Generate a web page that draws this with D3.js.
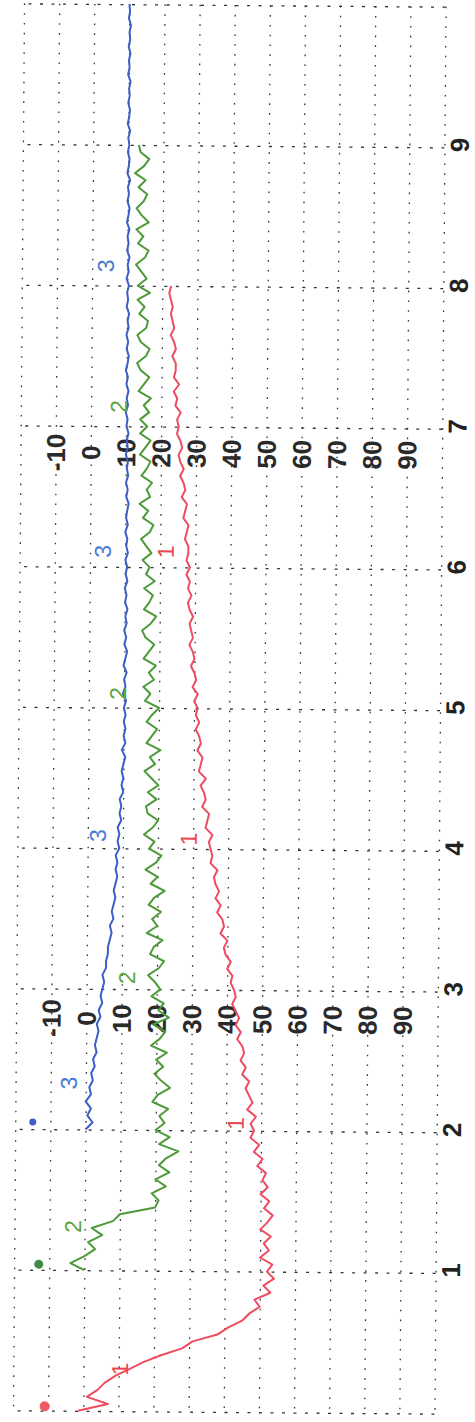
<!DOCTYPE html>
<html><head><meta charset="utf-8">
<script src="https://cdn.jsdelivr.net/npm/d3@7"></script>
<style>body{margin:0;background:#fff}svg{display:block}</style>
</head><body><svg id="c" width="475" height="1422"></svg>
<script>
// ---------- data ----------
const timeGrid = [0,1,2,3,4,5,6,7,8,9,10];
const timeTickLabels = [1,2,3,4,5,6,7,8,9];
const valueGrid = [-20,-10,0,10,20,30,40,50,60,70,80,90,100];
const valueTickLabels = [-10,0,10,20,30,40,50,60,70,80,90];
const valueLabelRows = [2.79, 6.81];   // time positions of the two label columns
const timeStep = 0.05;

const redStart = 0;
const redValues = [
 -1.5, 7, 1, 4, 6, 9, 13, 17, 22, 28, 31, 38, 41, 45, 47, 50, 48.5, 53, 51, 54,
 52, 53.5, 50, 52.5, 51, 53, 50, 52, 53.5, 51, 52.5, 50, 52, 50.5, 51.5, 49, 50.5, 48, 49.5, 47,
 48, 47, 48.5, 46, 47.5, 46.5, 45.5, 46.5, 44.5, 45.5, 44, 45, 44.5, 43, 44, 42.5, 43.5, 42.5, 41.5, 42.5,
 42, 41, 41.5, 40, 41, 39.5, 39, 40, 38, 39, 38.5, 37, 38, 36.5, 37.5, 36.5, 36, 37, 35, 35.5,
 35, 34.5, 35.5, 33.5, 34, 34.5, 32.5, 33.5, 33, 32, 33.5, 31.5, 32, 32.5, 31, 32, 31.5, 30.5, 31.5, 30.5,
 31, 30, 31, 29.5, 30.5, 30, 29, 30, 29.5, 28.5, 29.5, 29, 28.5, 29.5, 28.5, 28, 29, 28, 28.5, 27.5,
 28.5, 27.5, 28, 28, 27, 27.5, 28, 26.5, 27, 27.5, 26, 27, 26.5, 25.5, 26.5, 25.5, 25, 26, 25.5, 24.5,
 25, 24.5, 25.5, 24, 24.5, 23.5, 25, 23.5, 24, 24, 23, 24, 23.5, 22.5, 23.5, 23, 22.5, 23, 22.5, 22,
 22.5
];

const greenStart = 1;
const greenValues = [
 0, -4, 0, 3, 1, 5, 2, 8, 10, 20, 21, 19, 23, 20, 24, 21, 23, 26.5, 21, 24,
 20, 22.5, 21, 23.5, 19, 20.5, 24, 21.5, 19.5, 22, 20, 23, 18.5, 21, 22.5, 19, 23.5, 20.5, 22, 18.5,
 21, 19.5, 17.5, 20.5, 22, 18, 19, 21.5, 17, 20, 18.5, 21, 17.5, 19, 22, 18, 20, 16.5, 19.5, 21,
 17.5, 19, 16, 18.5, 20, 17, 16.5, 19.5, 17, 20, 18, 16, 19, 17.5, 20.5, 16.5, 18, 19.5, 16.5, 18,
 20, 16, 17.5, 15.5, 18.5, 17, 19, 15.5, 17, 18.5, 16, 15, 17.5, 19, 15.5, 17, 18, 15.5, 18.5, 16,
 17, 15, 17.5, 16, 14.5, 17, 18, 15, 16.5, 14, 17, 16, 17.5, 14.5, 16, 17, 14, 15.5, 17, 14,
 16, 14, 16.5, 15, 17, 13.5, 15, 16.5, 14, 13, 15.5, 16.5, 14, 13, 15.5, 16, 13.5, 15, 13, 16.5,
 13, 15.5, 14, 12.5, 15, 16, 13, 14.5, 12.5, 16, 14, 12.5, 14.5, 15.5, 13, 15, 12, 14.5, 16, 13.5,
 13
];

const blueStart = 2;
const blueValues = [
 0, 2, 0.5, 1.5, 0, 1.5, 1, 2, 1.5, 2.5, 2, 3, 2.5, 3, 3.5, 3, 4, 3.5, 4.5, 4,
 4.5, 5, 4.5, 5.5, 5.5, 6, 6, 6.5, 7, 6.5, 7.5, 7, 7.5, 8, 7.5, 8, 8.5, 8, 8.5, 8,
 9, 8.5, 9, 8.5, 9.5, 9, 9.5, 9, 10, 9.5, 10, 9.5, 10, 10.5, 9.5, 10.5, 10, 10.5, 10, 10.5,
 10, 10.6, 9.7, 10.4, 10, 10.7, 9.8, 10.3, 10.8, 10, 10.5, 9.9, 10.6, 10.2, 10.8, 10.1, 10.5, 10, 10.7, 10.2,
 10.6, 10.1, 10.8, 10.3, 10.6, 10, 10.7, 10.2, 10.5, 10.9, 10.2, 10.6, 10.1, 10.7, 10.3, 10.6, 10, 10.5, 10.2, 10.7,
 10.1, 10.4, 9.9, 10.5, 10.1, 10.6, 10, 10.4, 9.8, 10.3, 10.6, 10, 10.4, 9.9, 10.5, 10.2, 10.6, 9.9, 10.3, 10,
 10.5, 9.8, 10.4, 10.1, 10.6, 9.9, 10.3, 10, 10.5, 9.8, 10.2, 10.5, 9.9, 10.3, 10, 10.6, 9.8, 10.2, 10.4, 9.9,
 10.3, 10, 10.5, 9.8, 10.2, 10.4, 9.9, 10.3, 10.1, 10.5, 9.8, 10.2, 10, 10.4, 9.9, 10.3, 10.1, 10.5, 9.9, 10.2,
 10
];

const seriesNames = ['1','2','3'];
const markerT = [0.03, 1.04, 2.05];
const markerV = [-11, -13, -15];
// in-plot series annotations
const labelSeries = ['1','1','1','1','2','2','2','2','3','3','3','3'];
const labelT = [0.30, 2.05, 4.07, 6.11, 1.31, 3.08, 5.10, 7.14, 2.33, 4.09, 6.11, 8.14];
const labelV = [10.3, 42.7, 28.7, 21.5, -3.4, 11.4, 8.2, 7.8, -4.9, 2.8, 3.6, 3.8];

// ---------- styles ----------
const lineColor = {'1':'#ee4c60','2':'#4d9a3a','3':'#3d5ec6'};
const textColor = {'1':'#e8474f','2':'#5aa53c','3':'#4b7cd6'};
const markerColor = {'1':'#f05a62','2':'#3f8a45','3':'#3d5ec6'};
const markerR = {'1':5,'2':4.5,'3':3.5};

// ---------- chart ----------
const x = d3.scaleLinear().domain([-20,100]).range([18.5,440]);
const y = d3.scaleLinear().domain([0,10]).range([1412,5]);
const svg = d3.select('#c');
svg.append('rect').attr('width',475).attr('height',1422).attr('fill','#fff');
const g = svg.append('g').attr('transform','rotate(0.45 229 710)');

// vertical (value) grid
g.append('g').attr('transform',`translate(0,${y(10)})`)
 .call(d3.axisTop(x).tickValues(valueGrid).tickSize(-(y(0)-y(10))).tickFormat(''))
 .call(s=>{s.select('.domain').remove();
   s.selectAll('.tick line').attr('stroke','#333').attr('stroke-width',1.3).attr('stroke-dasharray','1.6,8.2');});

// horizontal (time) grid + tick labels
g.append('g').attr('transform',`translate(${x(100)},0)`)
 .call(d3.axisRight(y).tickValues(timeGrid).tickSize(-(x(100)-x(-20)))
   .tickFormat(d=>timeTickLabels.includes(d)?String(d):''))
 .call(s=>{s.select('.domain').remove();
   s.selectAll('.tick line').attr('stroke','#333').attr('stroke-width',1.3).attr('stroke-dasharray','3,8.5');
   s.selectAll('.tick text').attr('x',null).attr('dy','0.36em').attr('text-anchor','middle')
     .attr('transform','translate(15,-3) rotate(-90)')
     .attr('fill','#222').attr('font-family','Liberation Sans, Arial, sans-serif')
     .attr('font-size',26).attr('font-weight','bold');});

// value labels (two columns)
const vl = g.append('g');
valueLabelRows.forEach(t=>{
  vl.selectAll(null).data(valueTickLabels).enter().append('text')
    .attr('transform',d=>`translate(${x(d)},${y(t)}) rotate(-90)`)
    .attr('dy','0.36em').attr('text-anchor','middle')
    .attr('font-family','Liberation Sans, Arial, sans-serif').attr('font-size',26).attr('font-weight','bold')
    .attr('fill','#2a2a2a').text(d=>String(d));
});

// series
const series = [
  {name:'1', pts: redValues.map((v,i)=>({t: redStart + i*timeStep, v}))},
  {name:'2', pts: greenValues.map((v,i)=>({t: greenStart + i*timeStep, v}))},
  {name:'3', pts: blueValues.map((v,i)=>({t: blueStart + i*timeStep, v}))}
];
const line = d3.line().x(d=>x(d.v)).y(d=>y(d.t));
g.append('g').selectAll('path').data(series).enter().append('path')
  .attr('d',d=>line(d.pts)).attr('fill','none')
  .attr('stroke',d=>lineColor[d.name]).attr('stroke-width',2).attr('stroke-linejoin','round');

// start markers
g.append('g').selectAll('circle').data(seriesNames).enter().append('circle')
  .attr('cx',(d,i)=>x(markerV[i])).attr('cy',(d,i)=>y(markerT[i]))
  .attr('r',d=>markerR[d]).attr('fill',d=>markerColor[d]);

// series annotations
g.append('g').selectAll('text').data(labelSeries).enter().append('text')
  .attr('transform',(d,i)=>`translate(${x(labelV[i])},${y(labelT[i])}) rotate(-90)`)
  .attr('dy','0.36em').attr('text-anchor','middle')
  .attr('font-family','Liberation Sans, Arial, sans-serif').attr('font-size',23)
  .attr('fill',d=>textColor[d]).text(d=>d);
</script>
</body></html>
